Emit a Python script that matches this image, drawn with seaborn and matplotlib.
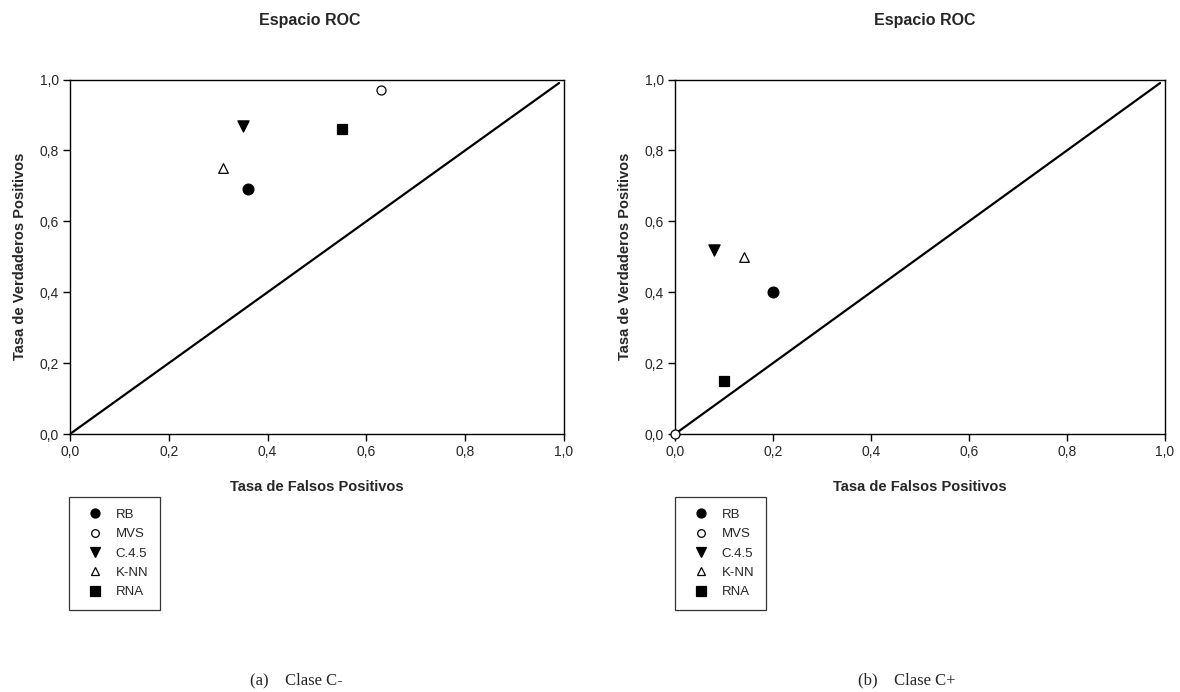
import matplotlib
matplotlib.use("Agg")
import matplotlib.pyplot as plt
import seaborn as sns
import pandas as pd
from matplotlib.ticker import FuncFormatter
from matplotlib.lines import Line2D

# Classifiers and their ROC-space coordinates
clasificadores = ["RB", "MVS", "C.4.5", "K-NN", "RNA"]

fpr_c_menos = [0.36, 0.63, 0.35, 0.31, 0.55]
tpr_c_menos = [0.69, 0.97, 0.87, 0.75, 0.86]

fpr_c_mas = [0.20, 0.00, 0.08, 0.14, 0.10]
tpr_c_mas = [0.40, 0.00, 0.52, 0.50, 0.15]

# Reference diagonal (random classifier)
diag_x = [0.0, 0.99]
diag_y = [0.0, 0.99]

ticks = [0.0, 0.2, 0.4, 0.6, 0.8, 1.0]
titulo = "Espacio ROC"
etiqueta_x = "Tasa de Falsos Positivos"
etiqueta_y = "Tasa de Verdaderos Positivos"
subtitulos = ["(a)    Clase C-", "(b)    Clase C+"]

# marker, face colour, size per classifier
estilos = {
    "RB": ("o", "black", 60),
    "MVS": ("o", "white", 42),
    "C.4.5": ("v", "black", 65),
    "K-NN": ("^", "white", 48),
    "RNA": ("s", "black", 55),
}

sns.set_theme(style="white")
plt.rcParams["font.family"] = ["Liberation Sans", "DejaVu Sans"]

fig = plt.figure(figsize=(11.8, 6.92), dpi=100)
W, H = 1180, 692

def px_axes(x0, y0, x1, y1):
    return [x0 / W, 1 - y1 / H, (x1 - x0) / W, (y1 - y0) / H]

ejes = [fig.add_axes(px_axes(70, 79.5, 564, 434)),
        fig.add_axes(px_axes(675, 79.5, 1165, 434))]
datos = [(fpr_c_menos, tpr_c_menos), (fpr_c_mas, tpr_c_mas)]
legend_x = [69, 675]
caption_x = [296, 907]
title_x = [310, 925]

fmt = FuncFormatter(lambda v, p: f"{v:.1f}".replace(".", ","))

for ax, (fx, fy), lx, cx, tx, sub in zip(ejes, datos, legend_x, caption_x,
                                         title_x, subtitulos):
    df = pd.DataFrame({"fpr": fx, "tpr": fy, "clf": clasificadores})
    sns.lineplot(x=diag_x, y=diag_y, ax=ax, color="black", lw=1.6)
    for nombre in clasificadores:
        m, fc, s = estilos[nombre]
        sns.scatterplot(data=df[df["clf"] == nombre], x="fpr", y="tpr", ax=ax,
                        marker=m, s=s, color=fc, edgecolor="black",
                        linewidth=0.9, zorder=5, clip_on=False)
    ax.set_xlim(0, 1)
    ax.set_ylim(0, 1)
    ax.set_xticks(ticks)
    ax.set_yticks(ticks)
    ax.xaxis.set_major_formatter(fmt)
    ax.yaxis.set_major_formatter(fmt)
    ax.tick_params(axis="both", direction="out", length=5, width=1,
                   color="black", labelsize=10, pad=3, bottom=True, left=True)
    for sp in ax.spines.values():
        sp.set_color("black")
        sp.set_linewidth(1.0)
        sp.set_visible(True)
    ax.set_xlabel(etiqueta_x, fontsize=10.5, fontweight="bold", labelpad=15)
    ax.set_ylabel(etiqueta_y, fontsize=10.5, fontweight="bold", labelpad=9)
    fig.text(tx / W, 1 - 20 / H, titulo, ha="center", va="center",
             fontsize=11.5, fontweight="bold")

    handles = [Line2D([0], [0], linestyle="none", marker=estilos[n][0],
                      markerfacecolor=estilos[n][1], markeredgecolor="black",
                      markersize=6.5 if estilos[n][1] == "black" else 5.5,
                      markeredgewidth=0.9)
               for n in clasificadores]
    leg = fig.legend(handles, clasificadores, loc="upper left",
                     bbox_to_anchor=(lx / W, 1 - 497 / H),
                     frameon=True, fancybox=False, fontsize=9.5,
                     handlelength=2.24, handletextpad=0.4, labelspacing=0.54,
                     borderpad=0.88, borderaxespad=0.0)
    fr = leg.get_frame()
    fr.set_edgecolor("black")
    fr.set_linewidth(0.9)

    fig.text(cx / W, 1 - 680 / H, sub, ha="center", va="center",
             fontsize=12, family=["Liberation Serif", "DejaVu Serif"])

fig.savefig("out.png", dpi=100, facecolor="white")
